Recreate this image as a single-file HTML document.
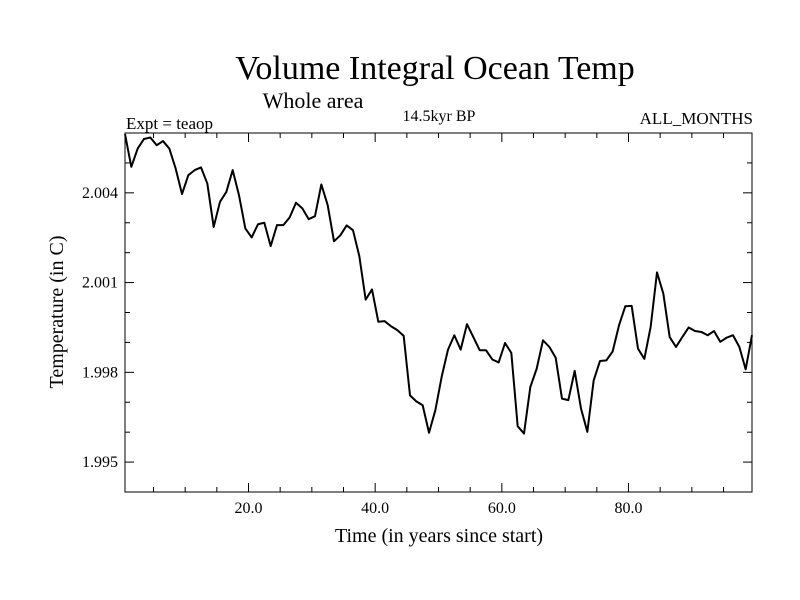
<!DOCTYPE html>
<html><head><meta charset="utf-8"><style>
html,body{margin:0;padding:0;background:#fff;}
svg{display:block;font-family:"Liberation Serif",serif;}
</style></head><body>
<svg id="chart" width="800" height="600" viewBox="0 0 800 600">
<rect width="800" height="600" fill="#fff"/>
<text x="435" y="79" font-size="34" text-anchor="middle">Volume Integral Ocean Temp</text>
<text x="313" y="108" font-size="22" text-anchor="middle">Whole area</text>
<text x="126" y="129" font-size="17">Expt = teaop</text>
<text x="439" y="121" font-size="16" text-anchor="middle">14.5kyr BP</text>
<text x="753" y="124" font-size="17" text-anchor="end">ALL_MONTHS</text>
<text x="439" y="542" font-size="20" text-anchor="middle">Time (in years since start)</text>
<text transform="translate(63,312) rotate(-90)" font-size="20" text-anchor="middle">Temperature (in C)</text>
<g id="axes"></g>
<path id="line" fill="none" stroke="#000" stroke-width="2" stroke-linejoin="round"/>
<rect x="125" y="133" width="627" height="359" fill="none" stroke="#000" stroke-width="1"/>
</svg>
<script>
const values = [2.00596,2.00487,2.00548,2.00580,2.00585,2.00559,2.00573,2.00548,2.00481,2.00396,
2.00459,2.00476,2.00485,2.00431,2.00286,2.00370,2.00403,2.00476,2.00392,2.00281,
2.00251,2.00295,2.00300,2.00222,2.00292,2.00292,2.00318,2.00367,2.00348,2.00312,
2.00322,2.00428,2.00359,2.00238,2.00258,2.00291,2.00275,2.00188,2.00043,2.00077,
1.99969,1.99971,1.99954,1.99941,1.99922,1.99723,1.99703,1.99690,1.99598,1.99673,
1.99785,1.99876,1.99924,1.99876,1.99961,1.99918,1.99874,1.99874,1.99843,1.99833,
1.99898,1.99865,1.99620,1.99595,1.99751,1.99812,1.99907,1.99885,1.99849,1.99712,
1.99707,1.99805,1.99679,1.99601,1.99773,1.99838,1.99840,1.99870,1.99957,2.00021,
2.00022,1.99879,1.99845,1.99952,2.00134,2.00063,1.99918,1.99885,1.99918,1.99950,
1.99938,1.99935,1.99924,1.99938,1.99902,1.99916,1.99924,1.99885,1.99810,1.99924];
const xTicks = [20, 40, 60, 80];
const xTickLabels = ["20.0", "40.0", "60.0", "80.0"];
const yTicks = [2.004, 2.001, 1.998, 1.995];
const yTickLabels = ["2.004", "2.001", "1.998", "1.995"];
const X0=125,X1=752,Y0=133,Y1=492;
const xMin=0.5,xMax=99.5,yMin=1.994,yMax=2.006;
const xs=v=>X0+(v-xMin)/(xMax-xMin)*(X1-X0);
const ys=v=>Y1-(v-yMin)/(yMax-yMin)*(Y1-Y0);
const NS="http://www.w3.org/2000/svg";
const axes=document.getElementById('axes');
function ln(x1,y1,x2,y2,name){const l=document.createElementNS(NS,'line');
l.setAttribute('x1',x1);l.setAttribute('y1',y1);l.setAttribute('x2',x2);l.setAttribute('y2',y2);
l.setAttribute('stroke','#000');l.setAttribute('stroke-width','1');


axes.appendChild(l);}
function tx(x,y,s,anchor,name){const t=document.createElementNS(NS,'text');
t.setAttribute('x',x);t.setAttribute('y',y);t.setAttribute('font-size','16');t.setAttribute('text-anchor',anchor);
t.textContent=s;


axes.appendChild(t);}
for(let v=5;v<xMax;v+=5){const x=xs(v);const major=v%20===0;const L=major?9:5;
ln(x,Y1,x,Y1-L,'x-tick');ln(x,Y0,x,Y0+L,'x-tick-top');}
xTicks.forEach((v,i)=>tx(xs(v),513,xTickLabels[i],'middle','x-tick-label'));
for(let k=0;k<=12;k++){const v=yMin+k*0.001;const y=ys(v);if(y<=Y0+0.5||y>=Y1-0.5)continue;
const major=yTicks.some(t=>Math.abs(t-v)<1e-6);const L=major?9:5;
ln(X0,y,X0+L,y,'y-tick');ln(X1,y,X1-L,y,'y-tick-right');}
yTicks.forEach((v,i)=>tx(118,ys(v)+5,yTickLabels[i],'end','y-tick-label'));
let d='';values.forEach((v,i)=>{d+=(i?'L':'M')+xs(xMin+i).toFixed(2)+','+ys(v).toFixed(2);});
document.getElementById('line').setAttribute('d',d);
</script>
</body></html>
